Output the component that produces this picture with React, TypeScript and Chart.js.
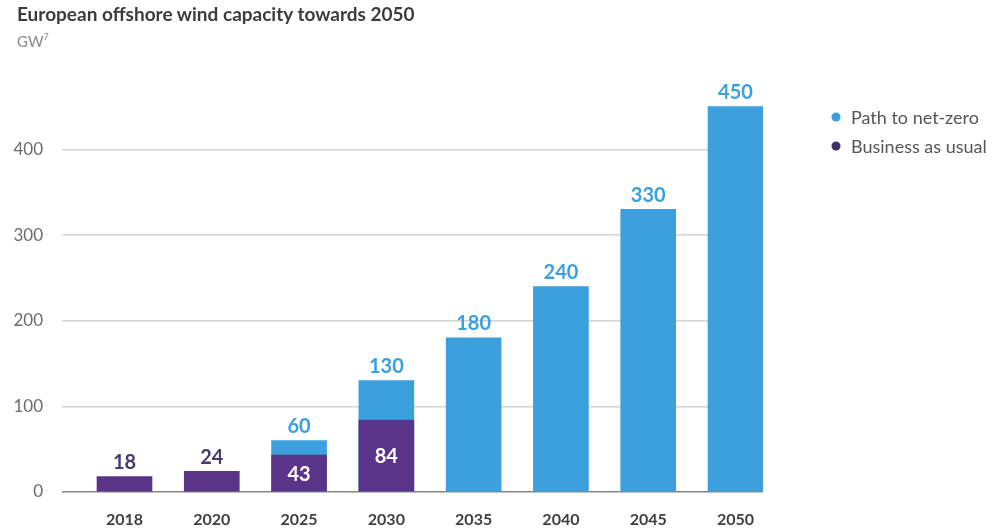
import React, { useEffect, useRef } from "react";
import { Chart, registerables } from "chart.js";

Chart.register(...registerables);

const categories = ["2018", "2020", "2025", "2030", "2035", "2040", "2045", "2050"];
const pathToNetZero: (number | null)[] = [null, null, 60, 130, 180, 240, 330, 450];
const businessAsUsual: (number | null)[] = [18, 24, 43, 84, null, null, null, null];
const yTickValues = [0, 100, 200, 300, 400];
const seriesNames = ["Path to net-zero", "Business as usual"];
const titleText = "European offshore wind capacity towards 2050";
const unitText = "GW";
const unitNote = "7";

const BLUE = "#3ba0dd";
const PURPLE = "#5a3489";
const PURPLE_LABEL = "#4a3a6c";
const PURPLE_DOT = "#3f2f68";
const FONT = "Lato, 'Noto Sans', sans-serif";

const dataLabelPlugin = {
  id: "dataLabels",
  afterDatasetsDraw(chart: any) {
    const ctx = chart.ctx;
    ctx.save();
    ctx.font = `bold 20px ${FONT}`;
    ctx.textAlign = "center";
    ctx.textBaseline = "middle";
    chart.data.datasets.forEach((ds: any, di: number) => {
      const meta = chart.getDatasetMeta(di);
      meta.data.forEach((el: any, i: number) => {
        const v = ds.data[i]?.y;
        if (v === null || v === undefined) return;
        const { x, y, base } = el.getProps(["x", "y", "base"], true);
        if (ds.kind === "path") {
          ctx.fillStyle = BLUE;
          ctx.fillText(String(v), x, y - 14);
        } else {
          const hasPath = pathToNetZero[i] !== null;
          if (hasPath) {
            ctx.fillStyle = "#ffffff";
            ctx.fillText(String(v), x, (y + base) / 2 + 1);
          } else {
            ctx.fillStyle = PURPLE_LABEL;
            ctx.fillText(String(v), x, y - 14);
          }
        }
      });
    });
    ctx.restore();
  },
};

const legendPlugin = {
  id: "sideLegend",
  afterDraw(chart: any) {
    const ctx = chart.ctx;
    ctx.save();
    ctx.font = `18px ${FONT}`;
    ctx.textBaseline = "middle";
    ctx.textAlign = "left";
    const colors = [BLUE, PURPLE_DOT];
    seriesNames.forEach((name, i) => {
      const cy = 117 + i * 29;
      ctx.beginPath();
      ctx.fillStyle = colors[i];
      ctx.arc(836, cy, 4.5, 0, Math.PI * 2);
      ctx.fill();
      ctx.fillStyle = "#555555";
      ctx.fillText(name, 851, cy + 1);
    });
    ctx.restore();
  },
};

export default function App() {
  const canvasRef = useRef<HTMLCanvasElement | null>(null);

  useEffect(() => {
    if (!canvasRef.current) return;
    const chart = new Chart(canvasRef.current, {
      type: "bar",
      data: {
        datasets: [
          {
            label: seriesNames[0],
            kind: "path",
            data: pathToNetZero.map((v, i) => ({ x: i, y: v })),
            backgroundColor: BLUE,
            borderWidth: 0,
            barThickness: 55,
            grouped: false,
            order: 2,
          } as any,
          {
            label: seriesNames[1],
            kind: "bau",
            data: businessAsUsual.map((v, i) => ({ x: i, y: v })),
            backgroundColor: PURPLE,
            borderWidth: 0,
            barThickness: 55,
            grouped: false,
            order: 1,
          } as any,
        ],
      },
      options: {
        responsive: false,
        animation: false,
        events: [],
        layout: { padding: { left: 0, right: 232, top: 81, bottom: 0 } },
        plugins: {
          legend: { display: false },
          tooltip: { enabled: false },
          title: { display: false },
        },
        scales: {
          x: {
            type: "linear",
            offset: false,
            min: -0.716,
            max: 7.315,
            afterBuildTicks: (scale: any) => {
              scale.ticks = categories.map((_, i) => ({ value: i }));
            },
            afterFit: (scale: any) => {
              scale.height = 38;
            },
            ticks: {
              autoSkip: false,
              maxRotation: 0,
              padding: 18,
              color: "#404040",
              font: { family: FONT, size: 16, weight: "bold" },
              callback: (v: any) => categories[Math.round(Number(v))] ?? "",
            },
            grid: { display: false, drawTicks: false },
            border: { display: false },
          },
          y: {
            min: 0,
            max: 480,
            afterBuildTicks: (scale: any) => {
              scale.ticks = yTickValues.map((v) => ({ value: v }));
            },
            afterFit: (scale: any) => {
              scale.width = 62;
            },
            ticks: {
              padding: 19,
              color: "#6b6b6b",
              font: { family: FONT, size: 17 },
            },
            grid: {
              drawTicks: false,
              lineWidth: 1.5,
              color: (c: any) => (c.tick && c.tick.value === 0 ? "#858585" : "#d4d4d4"),
            },
            border: { display: false },
          },
        },
      } as any,
      plugins: [dataLabelPlugin, legendPlugin],
    });
    return () => chart.destroy();
  }, []);

  return (
    <div style={{ position: "fixed", left: 0, top: 0, width: 995, height: 530, background: "#ffffff" }}>
      <canvas ref={canvasRef} width={995} height={530} style={{ width: 995, height: 530, display: "block" }} />
      <div
        style={{
          position: "absolute",
          left: 17,
          top: 3,
          fontFamily: FONT,
          fontSize: 19,
          lineHeight: "22px",
          fontWeight: 700,
          color: "#3c3c3c",
          whiteSpace: "nowrap",
        }}
      >
        {titleText}
      </div>
      <div
        style={{
          position: "absolute",
          left: 17,
          top: 32,
          fontFamily: FONT,
          fontSize: 15,
          lineHeight: "18px",
          color: "#8a8a8a",
          whiteSpace: "nowrap",
        }}
      >
        {unitText}
        <sup style={{ fontSize: 9, verticalAlign: "top", lineHeight: "10px" }}>{unitNote}</sup>
      </div>
    </div>
  );
}
